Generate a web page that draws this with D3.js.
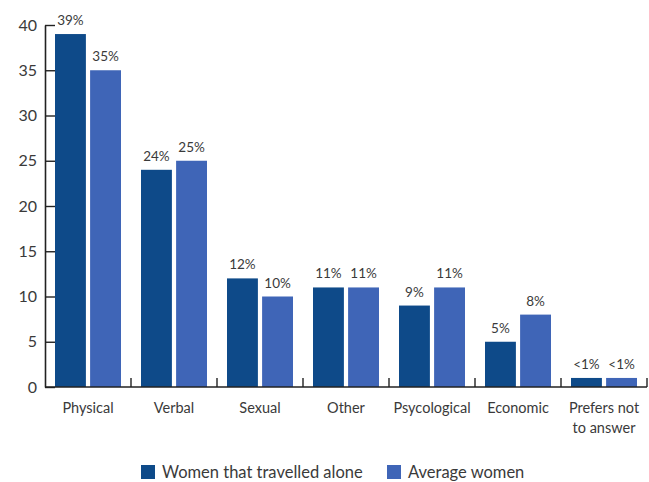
<!DOCTYPE html>
<html>
<head>
<meta charset="utf-8">
<script src="https://cdn.jsdelivr.net/npm/d3@7"></script>
<style>
  body { margin: 0; background: #fff; }
  text { font-family: Lato, "Open Sans", sans-serif; fill: #3a3a3a; }
</style>
</head>
<body>
<div id="chart"></div>
<script>
// data
const categories = ["Physical", "Verbal", "Sexual", "Other", "Psycological", "Economic", "Prefers not\nto answer"];
const aloneValues = [39, 24, 12, 11, 9, 5, 1];
const averageValues = [35, 25, 10, 11, 11, 8, 1];
const aloneLabels = ["39%", "24%", "12%", "11%", "9%", "5%", "<1%"];
const averageLabels = ["35%", "25%", "10%", "11%", "11%", "8%", "<1%"];
const seriesNames = ["Women that travelled alone", "Average women"];
const yTicks = [0, 5, 10, 15, 20, 25, 30, 35, 40];

const colors = ["#0e4a89", "#3f65b7"];

const width = 649, height = 482;
const margin = { top: 25, right: 2, bottom: 95, left: 45 };

const svg = d3.select("#chart").append("svg")
	.attr("width", width)
	.attr("height", height);

const x = d3.scaleBand()
	.domain(categories)
	.range([margin.left, width - margin.right]);

const inner = d3.scaleBand()
	.domain([0, 1])
	.range([10, x.bandwidth() - 10])
	.paddingInner(0.12);

const y = d3.scaleLinear()
	.domain([0, 40])
	.range([height - margin.bottom, margin.top]);

const rows = categories.map((c, i) => ({
	cat: c,
	vals: [
		{ s: 0, v: aloneValues[i], label: aloneLabels[i] },
		{ s: 1, v: averageValues[i], label: averageLabels[i] }
	]
}));

// bars
const groups = svg.append("g").selectAll("g")
	.data(rows)
	.enter()
	.append("g")
	.attr("transform", d => "translate(" + x(d.cat) + ",0)");

groups.selectAll("rect")
	.data(d => d.vals)
	.enter()
	.append("rect")
	.attr("x", d => inner(d.s))
	.attr("width", inner.bandwidth())
	.attr("y", d => y(d.v))
	.attr("height", d => y(0) - y(d.v))
	.attr("fill", d => colors[d.s]);

groups.selectAll("text")
	.data(d => d.vals)
	.enter()
	.append("text")
	.attr("x", d => inner(d.s) + inner.bandwidth() / 2)
	.attr("y", d => y(d.v) - 9)
	.attr("text-anchor", "middle")
	.style("font-size", "13.5px")
	.text(d => d.label);

// y axis
const yAxis = svg.append("g")
	.attr("transform", "translate(" + margin.left + ",0)")
	.call(d3.axisLeft(y).tickValues(yTicks).tickSize(-10).tickSizeOuter(0).tickPadding(8));
yAxis.selectAll("text").style("font-size", "16px").attr("fill", "#3a3a3a");

// x axis: ticks at band boundaries pointing up
const xAxisG = svg.append("g")
	.attr("transform", "translate(0," + y(0) + ")");
xAxisG.append("line")
	.attr("x1", margin.left).attr("x2", width - margin.right)
	.attr("stroke", "#222").attr("stroke-width", 1.6);
const bounds = categories.map(c => x(c) + x.bandwidth());
xAxisG.selectAll(".xtick")
	.data(bounds)
	.enter()
	.append("line")
	.attr("class", "xtick")
	.attr("x1", d => d).attr("x2", d => d)
	.attr("y1", 0).attr("y2", -9)
	.attr("stroke", "#222").attr("stroke-width", 1.4);

xAxisG.selectAll(".xlabel")
	.data(categories)
	.enter()
	.append("text")
	.attr("class", "xlabel")
	.attr("text-anchor", "middle")
	.attr("x", d => x(d) + x.bandwidth() / 2)
	.style("font-size", "14.5px")
	.each(function(d) {
		const lines = d.split("\n");
		d3.select(this).selectAll("tspan")
			.data(lines)
			.enter()
			.append("tspan")
			.attr("x", x(d) + x.bandwidth() / 2)
			.attr("y", (l, i) => 26 + i * 20)
			.text(l => l);
	});

yAxis.select(".domain").attr("stroke", "#222").attr("stroke-width", 1.6);
yAxis.selectAll(".tick line").attr("stroke", "#222").attr("stroke-width", 1.4);

// legend
const legend = svg.append("g").attr("transform", "translate(141,465)");
const legendX = [0, 246];
seriesNames.forEach((name, i) => {
	const g = legend.append("g").attr("transform", "translate(" + legendX[i] + ",0)");
	g.append("rect").attr("width", 14).attr("height", 14).attr("fill", colors[i]);
	g.append("text").attr("x", 21).attr("y", 13).style("font-size", "16.5px").text(name);
});
</script>
</body>
</html>
